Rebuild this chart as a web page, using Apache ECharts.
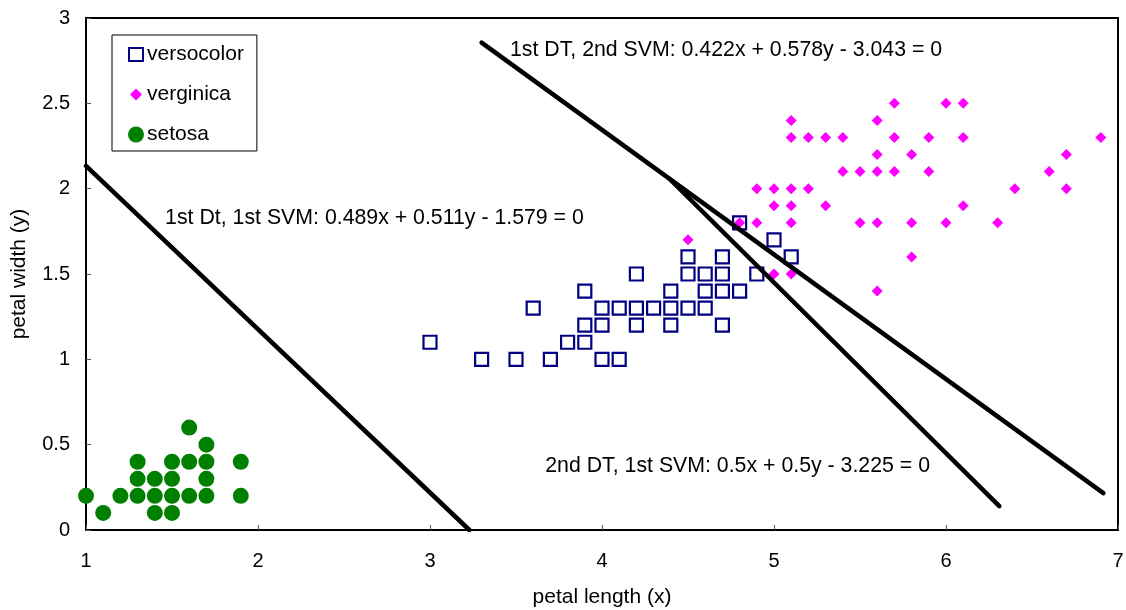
<!DOCTYPE html>
<html>
<head>
<meta charset="utf-8">
<script src="https://cdn.jsdelivr.net/npm/echarts@6/dist/echarts.min.js"></script>
<style>
  html, body { margin: 0; padding: 0; background: #fff; }
  #chart { width: 1126px; height: 610px; }
</style>
</head>
<body>
<div id="chart"></div>
<script>
// Iris petal measurements: [petal length, petal width]
const versicolorPts = [
  [3.0,1.1],[3.3,1.0],[3.5,1.0],[3.6,1.3],[3.7,1.0],[3.8,1.1],
  [3.9,1.4],[3.9,1.2],[3.9,1.1],[4.0,1.3],[4.0,1.2],[4.0,1.0],
  [4.1,1.3],[4.1,1.0],[4.2,1.5],[4.2,1.3],[4.2,1.2],[4.3,1.3],
  [4.4,1.4],[4.4,1.3],[4.4,1.2],[4.5,1.6],[4.5,1.5],[4.5,1.3],
  [4.6,1.5],[4.6,1.4],[4.6,1.3],[4.7,1.6],[4.7,1.5],[4.7,1.4],
  [4.7,1.2],[4.8,1.8],[4.8,1.4],[4.9,1.5],[5.0,1.7],[5.1,1.6]
];
const virginicaPts = [
  [4.5,1.7],[4.8,1.8],[4.9,2.0],[4.9,1.8],[5.0,2.0],[5.0,1.9],[5.0,1.5],
  [5.1,2.4],[5.1,2.3],[5.1,2.0],[5.1,1.9],[5.1,1.8],[5.1,1.5],
  [5.2,2.3],[5.2,2.0],[5.3,2.3],[5.3,1.9],[5.4,2.3],[5.4,2.1],
  [5.5,2.1],[5.5,1.8],[5.6,2.4],[5.6,2.2],[5.6,2.1],[5.6,1.8],[5.6,1.4],
  [5.7,2.5],[5.7,2.3],[5.7,2.1],[5.8,2.2],[5.8,1.8],[5.8,1.6],
  [5.9,2.3],[5.9,2.1],[6.0,2.5],[6.0,1.8],[6.1,2.5],[6.1,2.3],[6.1,1.9],
  [6.3,1.8],[6.4,2.0],[6.6,2.1],[6.7,2.2],[6.7,2.0],[6.9,2.3]
];
const setosaPts = [
  [1.0,0.2],[1.1,0.1],[1.2,0.2],[1.3,0.4],[1.3,0.3],[1.3,0.2],
  [1.4,0.3],[1.4,0.2],[1.4,0.1],[1.5,0.4],[1.5,0.3],[1.5,0.2],[1.5,0.1],
  [1.6,0.6],[1.6,0.4],[1.6,0.2],[1.7,0.5],[1.7,0.4],[1.7,0.3],[1.7,0.2],
  [1.9,0.4],[1.9,0.2]
];

// Decision boundaries a*x + b*y - c = 0, drawn over the x span [x0, x1]
const boundaries = [
  { a: 0.489, b: 0.511, c: 1.579, x0: 1.0,   x1: 3.229, text: '1st Dt, 1st SVM: 0.489x + 0.511y - 1.579 = 0', at: [1.46, 1.83] },
  { a: 0.422, b: 0.578, c: 3.043, x0: 3.30,  x1: 6.915, text: '1st DT, 2nd SVM: 0.422x + 0.578y - 3.043 = 0', at: [3.465, 2.81] },
  { a: 0.5,   b: 0.5,   c: 3.225, x0: 4.392, x1: 6.31,  text: '2nd DT, 1st SVM: 0.5x + 0.5y - 3.225 = 0',     at: [3.67, 0.375] }
];

const xTicks = { min: 1, max: 7, step: 1 };
const yTicks = { min: 0, max: 3, step: 0.5 };

const FONT = 'Liberation Sans, Arial, sans-serif';

function boundaryLine(bd) {
  const yAt = x => (bd.c - bd.a * x) / bd.b;
  return [[bd.x0, yAt(bd.x0)], [bd.x1, yAt(bd.x1)]];
}

const lineSeries = boundaries.map(bd => ({
  type: 'line',
  data: boundaryLine(bd),
  symbol: 'none',
  silent: true,
  z: 5,
  lineStyle: { color: '#000', width: 4.5, cap: 'round' }
}));

// Equation captions anchored in data space
const textSeries = {
  type: 'scatter',
  data: boundaries.map(bd => ({ value: bd.at, name: bd.text })),
  symbolSize: 0,
  silent: true,
  z: 6,
  itemStyle: { opacity: 1 },
  label: {
    show: true,
    position: 'right',
    distance: 0,
    formatter: p => p.name,
    color: '#000',
    opacity: 1,
    fontFamily: FONT,
    fontSize: 21.3
  }
};

// Diamond padded inside a 16x16 box so the legend icon stays small
const DIAMOND_ICON = 'path://M0,0M16,16M8,2L14,8L8,14L2,8Z';

const chart = echarts.init(document.getElementById('chart'));
chart.setOption({
  animation: false,
  backgroundColor: '#fff',
  grid: {
    left: 86, right: 8, top: 18, bottom: 80,
    outerBoundsMode: 'none',
    containLabel: false,
    show: true, borderColor: '#000', borderWidth: 2, backgroundColor: 'transparent'
  },
  legend: {
    orient: 'vertical',
    left: 112, top: 35,
    padding: [9, 13, 6, 15],
    itemGap: 19,
    itemWidth: 16, itemHeight: 16,
    borderColor: '#000', borderWidth: 1,
    textStyle: { color: '#000', fontFamily: FONT, fontSize: 21, padding: [0, 0, 0, -2] },
    data: [
      { name: 'versocolor', icon: 'path://M0,0M16,16M1,1.5H15V14.5H1Z', itemStyle: { color: '#fff', borderColor: '#000080', borderWidth: 2 } },
      { name: 'verginica', icon: DIAMOND_ICON, itemStyle: { color: '#ff00ff', borderWidth: 0 } },
      { name: 'setosa', icon: 'circle', itemStyle: { color: '#008000', borderWidth: 0 } }
    ]
  },
  xAxis: {
    type: 'value',
    min: xTicks.min, max: xTicks.max, interval: xTicks.step,
    name: 'petal length (x)', nameLocation: 'middle', nameGap: 57,
    nameTextStyle: { color: '#000', fontFamily: FONT, fontSize: 21 },
    axisLine: { lineStyle: { color: '#000', width: 2 } },
    axisTick: { inside: true, length: 5, lineStyle: { color: '#555', width: 1 } },
    axisLabel: { color: '#000', fontFamily: FONT, fontSize: 20, margin: 21 },
    splitLine: { show: false }
  },
  yAxis: {
    type: 'value',
    min: yTicks.min, max: yTicks.max, interval: yTicks.step,
    name: 'petal width (y)', nameLocation: 'middle', nameGap: 56,
    nameTextStyle: { color: '#000', fontFamily: FONT, fontSize: 21 },
    axisLine: { lineStyle: { color: '#000', width: 2 } },
    axisTick: { inside: true, length: 5, lineStyle: { color: '#555', width: 1 } },
    axisLabel: { color: '#000', fontFamily: FONT, fontSize: 20, margin: 16 },
    splitLine: { show: false }
  },
  series: [
    {
      name: 'versocolor', type: 'scatter', data: versicolorPts,
      symbol: 'rect', symbolSize: 13, z: 3,
      itemStyle: { color: 'rgba(0,0,0,0)', borderColor: '#000080', borderWidth: 2.2, opacity: 1 }
    },
    {
      name: 'verginica', type: 'scatter', data: virginicaPts,
      symbol: 'diamond', symbolSize: 11, z: 4,
      itemStyle: { color: '#ff00ff', opacity: 1 }
    },
    {
      name: 'setosa', type: 'scatter', data: setosaPts,
      symbol: 'circle', symbolSize: 16, z: 3,
      itemStyle: { color: '#008000', opacity: 1 }
    },
    ...lineSeries,
    textSeries
  ]
});
</script>
</body>
</html>
